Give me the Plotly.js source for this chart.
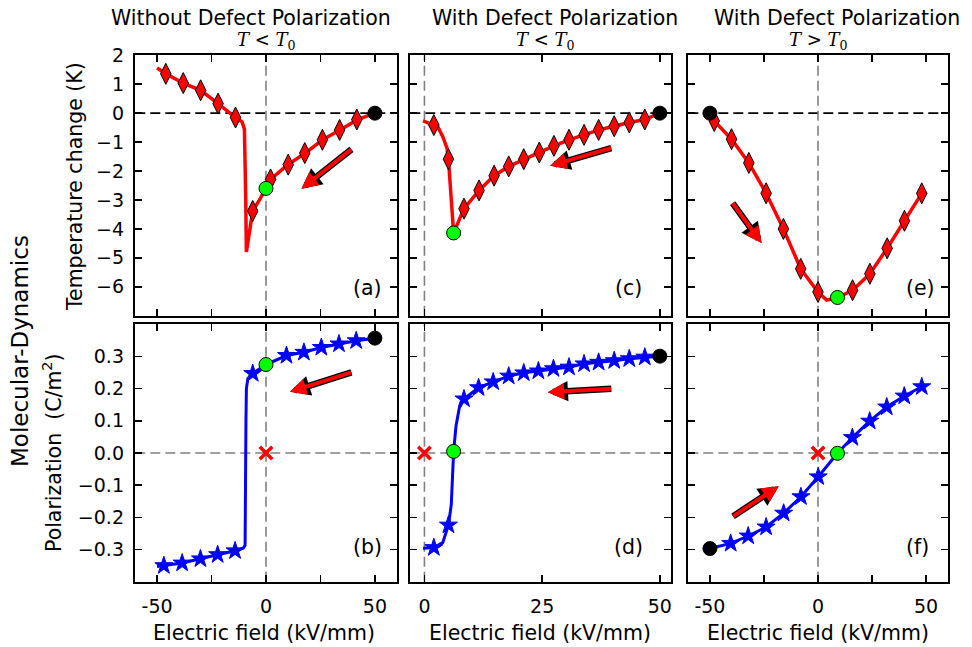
<!DOCTYPE html>
<html>
<head>
<meta charset="utf-8">
<script src="https://cdn.plot.ly/plotly-3.0.1.min.js"></script>
<style>
  html, body { margin: 0; padding: 0; background: #ffffff; }
  #chart { width: 972px; height: 647px; }
</style>
</head>
<body>
<div id="chart"></div>
<script>
// ---- (a) temperature change, without defect polarization, T < T0 ----
const aLineE = [50, 42, 34, 26, 18, 10, 2.1, 0, -3, -6.1, -8.2, -9.0, -9.3, -9.5, -9.9, -11, -14, -22, -30, -38, -46, -50];
const aLineT = [0, -0.22, -0.58, -0.92, -1.38, -1.78, -2.29, -2.6, -3.0, -3.38, -4.3, -4.8, -3.0, -1.2, -0.55, -0.3, -0.15, 0.33, 0.79, 1.04, 1.36, 1.56];
const aMarkE = [-46, -38, -30, -22, -14, -6.1, 2.1, 10.2, 17.8, 25.9, 33.8, 41.7];
const aMarkT = [1.36, 1.04, 0.79, 0.33, -0.15, -3.38, -2.29, -1.78, -1.38, -0.92, -0.58, -0.22];
const aStart = [50, 0];
const aCross = [0, -2.6];

// ---- (c) temperature change, with defect polarization, T < T0 ----
const cLineE = [50, 46.8, 43.5, 40.3, 37.0, 33.9, 30.7, 27.5, 24.4, 21.1, 17.9, 14.8, 11.6, 8.4, 6.2, 5.1, 4.8, 3.9, 2.9, 2.0, -0.3];
const cLineT = [0, -0.22, -0.32, -0.45, -0.58, -0.75, -0.92, -1.13, -1.36, -1.59, -1.84, -2.16, -2.67, -3.3, -4.14, -1.59, -1.21, -0.81, -0.49, -0.41, -0.27];
const cMarkE = [2.0, 5.1, 8.4, 11.6, 14.8, 17.9, 21.1, 24.4, 27.5, 30.7, 33.9, 37.0, 40.3, 43.5, 46.8];
const cMarkT = [-0.41, -1.59, -3.3, -2.67, -2.16, -1.84, -1.59, -1.36, -1.13, -0.92, -0.75, -0.58, -0.45, -0.32, -0.22];
const cStart = [50, 0];
const cCross = [6.2, -4.14];

// ---- (e) temperature change, with defect polarization, T > T0 ----
const eLineE = [-50, -48, -40, -32, -24, -16, -8, 0, 4, 9, 16, 24, 32, 40, 48];
const eLineT = [0, -0.27, -0.9, -1.72, -2.77, -4.0, -5.38, -6.18, -6.46, -6.37, -6.12, -5.55, -4.67, -3.72, -2.77];
const eMarkE = [-48, -40, -32, -24, -16, -8, 0, 16, 24, 32, 40, 48];
const eMarkT = [-0.27, -0.9, -1.72, -2.77, -4.0, -5.38, -6.18, -6.12, -5.55, -4.67, -3.72, -2.77];
const eStart = [-50, 0];
const eCross = [9, -6.37];

// ---- (b) polarization, without defect polarization ----
const bLineE = [50, 41.4, 33.5, 25.4, 17.4, 9.4, 0, -6.1, -8.3, -9.0, -9.2, -9.3, -9.6, -10.5, -14.2, -22.2, -30.1, -38.5, -46.9, -50];
const bLineP = [0.357, 0.349, 0.339, 0.328, 0.313, 0.303, 0.275, 0.247, 0.232, 0.2, 0.1, -0.25, -0.287, -0.296, -0.304, -0.316, -0.329, -0.342, -0.35, -0.353];
const bMarkE = [-46.9, -38.5, -30.1, -22.2, -14.2, -6.1, 9.4, 17.4, 25.4, 33.5, 41.4];
const bMarkP = [-0.35, -0.342, -0.329, -0.316, -0.304, 0.247, 0.303, 0.313, 0.328, 0.339, 0.349];
const bStart = [50, 0.357];
const bCross = [0, 0.275];

// ---- (d) polarization, with defect polarization, T < T0 ----
const dLineE = [50, 46.8, 43.5, 40.3, 37.0, 33.9, 30.7, 27.4, 24.2, 21.1, 17.9, 14.6, 11.5, 8.4, 7.4, 6.7, 6.2, 5.7, 5.1, 3.9, 2.0, -0.3];
const dLineP = [0.301, 0.298, 0.293, 0.287, 0.282, 0.277, 0.267, 0.262, 0.255, 0.249, 0.239, 0.221, 0.203, 0.168, 0.14, 0.083, 0.005, -0.161, -0.224, -0.278, -0.294, -0.296];
const dMarkE = [2.0, 5.1, 8.4, 11.5, 14.6, 17.9, 21.1, 24.2, 27.4, 30.7, 33.9, 37.0, 40.3, 43.5, 46.8];
const dMarkP = [-0.294, -0.224, 0.168, 0.203, 0.221, 0.239, 0.249, 0.255, 0.262, 0.267, 0.277, 0.282, 0.287, 0.293, 0.298];
const dStart = [50, 0.301];
const dCross = [6.2, 0.005];

// ---- (f) polarization, with defect polarization, T > T0 ----
const fLineE = [-50, -40.4, -32.3, -24, -15.9, -7.9, 0.1, 9, 15.9, 23.9, 31.8, 39.9, 48];
const fLineP = [-0.297, -0.281, -0.258, -0.23, -0.187, -0.136, -0.074, -0.001, 0.048, 0.099, 0.143, 0.177, 0.206];
const fMarkE = [-40.4, -32.3, -24, -15.9, -7.9, 0.1, 15.9, 23.9, 31.8, 39.9, 48];
const fMarkP = [-0.281, -0.258, -0.23, -0.187, -0.136, -0.074, 0.048, 0.099, 0.143, 0.177, 0.206];
const fStart = [-50, -0.297];
const fCross = [9, -0.001];

// zero field / zero polarization reference point
const zeroPoint = [0, 0];

// field-sweep direction arrows: [tailE, tailY, headE, headY]
const arrowA = [39.9, -1.21, 16.3, -2.61];
const arrowC = [40, -1.19, 26.7, -1.82];
const arrowE = [-40, -3.06, -26.1, -4.49];
const arrowB = [39.9, 0.252, 11, 0.19];
const arrowD = [40, 0.2, 26.2, 0.189];
const arrowF = [-40, -0.2, -18.2, -0.103];

// column headings and tick labels
const columnTitles = ['Without Defect Polarization', 'With Defect Polarization', 'With Defect Polarization'];
const columnConds = ['<i>T</i> &lt; <i>T</i><sub>0</sub>', '<i>T</i> &lt; <i>T</i><sub>0</sub>', '<i>T</i> &gt; <i>T</i><sub>0</sub>'];
const panelTags = ['(a)', '(c)', '(e)', '(b)', '(d)', '(f)'];
const wideTicks = [-50, -25, 0, 25, 50];
const wideTickText = ['-50', '', '0', '', '50'];
const narrowTicks = [0, 25, 50];
const narrowTickText = ['0', '25', '50'];
const tempTicks = [-6, -5, -4, -3, -2, -1, 0, 1, 2];
const polTicks = [-0.3, -0.2, -0.1, 0, 0.1, 0.2, 0.3];

const FONT = 'DejaVu Sans, sans-serif';
const RED = '#ff0000';
const BLUE = '#0000ff';
const GREEN = '#00ff00';
const W = 972, H = 647;

// frame edges in page pixels (axis lines are drawn just outside the plot area)
const colPx = [[135.3, 396.7], [410.3, 670.7], [688.3, 947.7]];
const rowPx = [[55.3, 315.7], [324.3, 581.7]];
const colDomains = colPx.map(c => [c[0] / W, c[1] / W]);
const rowDomains = rowPx.map(r => [1 - r[1] / H, 1 - r[0] / H]);
const xRanges = [[-60, 60], [-3, 52.3], [-60, 60]];

const traces = [];
const layout = {
  width: W, height: H,
  margin: {l: 0, r: 0, t: 0, b: 0},
  paper_bgcolor: '#ffffff', plot_bgcolor: '#ffffff',
  showlegend: false,
  font: {family: FONT, color: '#000000'},
  shapes: [], annotations: []
};

function axisBase() {
  return {
    ticks: 'inside', ticklen: 7, tickwidth: 1.5, tickcolor: '#000000',
    showline: true, linewidth: 2.5, linecolor: '#000000', mirror: 'ticks',
    showgrid: false, zeroline: false, tickmode: 'array',
    tickfont: {family: FONT, size: 19, color: '#000000'}
  };
}

// panel index: 0..2 top row (temperature), 3..5 bottom row (polarization)
function setupPanel(idx) {
  const row = idx < 3 ? 0 : 1;
  const col = idx % 3;
  const n = idx + 1;
  const xk = n === 1 ? 'xaxis' : 'xaxis' + n;
  const yk = n === 1 ? 'yaxis' : 'yaxis' + n;
  const xr = n === 1 ? 'x' : 'x' + n;
  const yr = n === 1 ? 'y' : 'y' + n;
  const xa = axisBase();
  Object.assign(xa, {
    domain: colDomains[col], range: xRanges[col], anchor: yr,
    tickvals: col === 1 ? narrowTicks : wideTicks,
    ticktext: col === 1 ? narrowTickText : wideTickText,
    showticklabels: row === 1, ticklabelstandoff: 6
  });
  const ya = axisBase();
  Object.assign(ya, {
    domain: rowDomains[row], anchor: xr,
    range: row === 0 ? [-7, 2] : [-0.4, 0.4],
    tickvals: row === 0 ? tempTicks : polTicks,
    tickformat: row === 0 ? 'd' : '.1f',
    showticklabels: col === 0, ticklabelstandoff: 5
  });
  layout[xk] = xa;
  layout[yk] = ya;

  // dashed zero guides
  layout.shapes.push({
    type: 'line', layer: 'below', xref: xr + ' domain', yref: yr,
    x0: 0, x1: 1, y0: 0, y1: 0,
    line: {color: row === 0 ? '#000000' : '#808080', width: 1.6, dash: '10px,5px'}
  });
  layout.shapes.push({
    type: 'line', layer: 'below', xref: xr, yref: yr + ' domain',
    x0: 0, x1: 0, y0: 0, y1: 1,
    line: {color: '#808080', width: 1.6, dash: '10px,5px'}
  });
  return {xr, yr};
}

function addCurve(ax, lineX, lineY, markX, markY, start, cross, isTemp, showZero, arrow) {
  const color = isTemp ? RED : BLUE;
  traces.push({
    type: 'scatter', mode: 'lines', x: lineX, y: lineY, xaxis: ax.xr, yaxis: ax.yr,
    line: {color: color, width: isTemp ? 3.5 : 3}, hoverinfo: 'skip'
  });
  traces.push({
    type: 'scatter', mode: 'markers', x: markX, y: markY, xaxis: ax.xr, yaxis: ax.yr,
    marker: isTemp
      ? {symbol: 'diamond-tall', size: 15, color: RED, line: {color: '#000000', width: 1}}
      : {symbol: 'star', size: 13.5, color: BLUE, line: {color: BLUE, width: 1}},
    hoverinfo: 'skip'
  });
  if (showZero) {
    traces.push({
      type: 'scatter', mode: 'markers', x: [zeroPoint[0]], y: [zeroPoint[1]], xaxis: ax.xr, yaxis: ax.yr,
      marker: {symbol: 'x-thin', size: 12.5, color: RED, line: {color: RED, width: 3.5}},
      hoverinfo: 'skip'
    });
  }
  traces.push({
    type: 'scatter', mode: 'markers', x: [start[0]], y: [start[1]], xaxis: ax.xr, yaxis: ax.yr,
    marker: {symbol: 'circle', size: 14, color: '#000000', line: {color: '#000000', width: 1}},
    hoverinfo: 'skip'
  });
  traces.push({
    type: 'scatter', mode: 'markers', x: [cross[0]], y: [cross[1]], xaxis: ax.xr, yaxis: ax.yr,
    marker: {symbol: 'circle', size: 14, color: GREEN, line: {color: '#000000', width: 1}},
    hoverinfo: 'skip'
  });
  // outlined arrow: black underlay, red on top
  const base = {
    xref: ax.xr, yref: ax.yr, axref: ax.xr, ayref: ax.yr,
    x: arrow[2], y: arrow[3], ax: arrow[0], ay: arrow[1],
    text: '', showarrow: true, arrowhead: 2, standoff: 0, startstandoff: 0
  };
  layout.annotations.push(Object.assign({}, base, {arrowcolor: '#000000', arrowwidth: 6.5, arrowsize: 0.62}));
  layout.annotations.push(Object.assign({}, base, {arrowcolor: RED, arrowwidth: 4, arrowsize: 0.82}));
}

const axes = [0, 1, 2, 3, 4, 5].map(setupPanel);
addCurve(axes[0], aLineE, aLineT, aMarkE, aMarkT, aStart, aCross, true, false, arrowA);
addCurve(axes[1], cLineE, cLineT, cMarkE, cMarkT, cStart, cCross, true, false, arrowC);
addCurve(axes[2], eLineE, eLineT, eMarkE, eMarkT, eStart, eCross, true, false, arrowE);
addCurve(axes[3], bLineE, bLineP, bMarkE, bMarkP, bStart, bCross, false, true, arrowB);
addCurve(axes[4], dLineE, dLineP, dMarkE, dMarkP, dStart, dCross, false, true, arrowD);
addCurve(axes[5], fLineE, fLineP, fMarkE, fMarkP, fStart, fCross, false, true, arrowF);

// text placement in page pixels -> paper fraction
function paperText(text, px, py, size, extra) {
  layout.annotations.push(Object.assign({
    xref: 'paper', yref: 'paper', x: px / W, y: 1 - py / H,
    xanchor: 'center', yanchor: 'middle', showarrow: false, text: text,
    font: {family: FONT, size: size, color: '#000000'}
  }, extra || {}));
}

const titleX = [251, 555, 837];
const condX = [266, 545, 818];
const fieldX = [264, 540, 818];
columnTitles.forEach((t, i) => paperText(t, titleX[i], 18, 20.5));
columnConds.forEach((t, i) => paperText(t, condX[i], 41, 18, {font: {family: 'DejaVu Serif, serif', size: 18, color: '#000000'}}));
fieldX.forEach(x => paperText('Electric field (kV/mm)', x, 633, 20.5));

paperText('Temperature change (K)', 75, 187, 20.5, {textangle: -90});
paperText('Polarization  (C/m<sup>2</sup>)', 52, 453, 20.5, {textangle: -90});
paperText('Molecular-Dynamics', 20, 351, 23, {textangle: -90});

const tagPos = [[367, 288], [628, 288], [920, 288], [367, 547], [628, 547], [917, 547]];
panelTags.forEach((t, i) => paperText(t, tagPos[i][0], tagPos[i][1], 20.5));

Plotly.newPlot('chart', traces, layout, {staticPlot: true, displayModeBar: false});
</script>
</body>
</html>
